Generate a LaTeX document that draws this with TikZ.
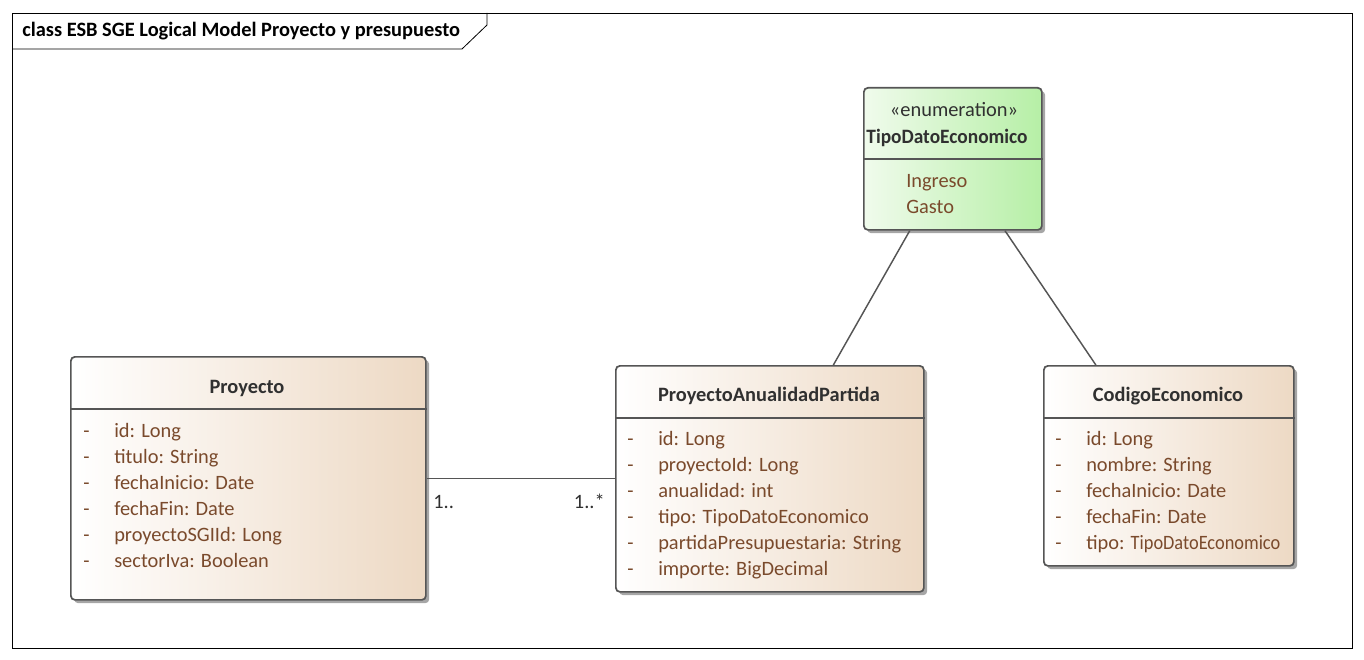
\documentclass[tikz,border=0pt]{standalone}
\usepackage{fontspec}
\setmainfont{Carlito}
\usetikzlibrary{calc,shadows}
\definecolor{umlText}{HTML}{7A4A2C}
\definecolor{umlTan}{HTML}{EDD9C4}
\definecolor{umlLine}{HTML}{555555}
\definecolor{umlDark}{HTML}{303030}
\definecolor{enumGreen}{HTML}{B6EFA6}
\definecolor{enumLight}{HTML}{F0FBEC}
\newcommand{\tikzAttrNode}[4]{
  \node [attr] (#1d) at (#2,#3+6) {-};
  \node [attr] (#1t) at (#2+31,#3+6) {#4};
}

\begin{document}
\begin{tikzpicture}[x=0.75pt, y=-0.75pt, font=\fontsize{15.3}{17}\selectfont,
  classbox/.style={draw=umlLine, line width=1.3pt, rounded corners=3pt, anchor=north west,
    inner sep=0pt, left color=white, right color=umlTan,
    drop shadow={shadow xshift=2.5pt, shadow yshift=-2.5pt, opacity=0.35, fill=black}},
  enumbox/.style={classbox, left color=enumLight, right color=enumGreen},
  attr/.style={anchor=base west, inner sep=0pt, text=umlText},
  cname/.style={anchor=base, inner sep=0pt, text=umlDark, font=\fontsize{15.3}{17}\selectfont\bfseries},
  link/.style={draw=umlLine, line width=1.1pt}]
  \useasboundingbox (0,0) rectangle (1364,660);

  % frame
  \draw [line width=0.6pt] (12,13) rectangle (1352,648);
  \draw [line width=0.6pt] (12,49) -- (462,49) -- (487,25) -- (487,13);
  \node [anchor=base west, inner sep=0pt, font=\fontsize{15.3}{17}\selectfont\bfseries] (title) at (22,37)
    {class ESB SGE Logical Model Proyecto y presupuesto};

  % enumeration
  \node [enumbox, minimum width=178*0.75pt, minimum height=142*0.75pt] (tipo) at (863,87) {};
  \draw [umlLine, line width=1.3pt] ($(tipo.north west)+(0,72)$) -- ($(tipo.north east)+(0,72)$);
  \node [anchor=base, inner sep=0pt, text=umlDark] (tipoSt) at (954,117) {«enumeration»};
  \node [cname] (tipoName) at (947,143) {\scalebox{0.95}[1]{TipoDatoEconomico}};
  \node [attr] (ingreso) at (906,187) {Ingreso};
  \node [attr] (gasto) at (906,213) {Gasto};

  % Proyecto
  \node [classbox, minimum width=355*0.75pt, minimum height=243*0.75pt] (proy) at (70,356) {};
  \draw [umlLine, line width=1.3pt] ($(proy.north west)+(0,53)$) -- ($(proy.north east)+(0,53)$);
  \node [cname] (proyName) at (247,393) {Proyecto};
  \tikzAttrNode{pr1}{83}{431}{id: Long}
  \tikzAttrNode{pr2}{83}{457}{titulo: String}
  \tikzAttrNode{pr3}{83}{483}{fechaInicio: Date}
  \tikzAttrNode{pr4}{83}{509}{fechaFin: Date}
  \tikzAttrNode{pr5}{83}{535}{proyectoSGIId: Long}
  \tikzAttrNode{pr6}{83}{561}{sectorIva: Boolean}

  % ProyectoAnualidadPartida
  \node [classbox, minimum width=308*0.75pt, minimum height=226*0.75pt] (pap) at (615,365) {};
  \draw [umlLine, line width=1.3pt] ($(pap.north west)+(0,53)$) -- ($(pap.north east)+(0,53)$);
  \node [cname] (papName) at (769,401) {ProyectoAnualidadPartida};
  \tikzAttrNode{pa1}{627}{439}{id: Long}
  \tikzAttrNode{pa2}{627}{465}{proyectoId: Long}
  \tikzAttrNode{pa3}{627}{491}{anualidad: int}
  \tikzAttrNode{pa4}{627}{517}{tipo: TipoDatoEconomico}
  \tikzAttrNode{pa5}{627}{543}{partidaPresupuestaria: String}
  \tikzAttrNode{pa6}{627}{569}{importe: BigDecimal}

  % CodigoEconomico
  \node [classbox, minimum width=250*0.75pt, minimum height=200*0.75pt] (cod) at (1043,365) {};
  \draw [umlLine, line width=1.3pt] ($(cod.north west)+(0,53)$) -- ($(cod.north east)+(0,53)$);
  \node [cname] (codName) at (1168,401) {CodigoEconomico};
  \tikzAttrNode{co1}{1055}{439}{id: Long}
  \tikzAttrNode{co2}{1055}{465}{nombre: String}
  \tikzAttrNode{co3}{1055}{491}{fechaInicio: Date}
  \tikzAttrNode{co4}{1055}{517}{fechaFin: Date}
  \tikzAttrNode{co5}{1055}{543}{tipo: \scalebox{0.9}[1]{TipoDatoEconomico}}

  % associations
  \path [link] (proy.east) -- (proy.east -| pap.west);
  \node [anchor=base west, inner sep=0pt, text=umlDark] (m1) at (433,508) {1..};
  \node [anchor=base east, inner sep=0pt, text=umlDark] (m2) at (605,508) {1..*};
  \path [link] ($(tipo.south west)!0.26!(tipo.south east)$) -- ($(pap.north west)!0.705!(pap.north east)$);
  \path [link] ($(tipo.south west)!0.79!(tipo.south east)$) -- ($(cod.north west)!0.21!(cod.north east)$);
\end{tikzpicture}
\end{document}
